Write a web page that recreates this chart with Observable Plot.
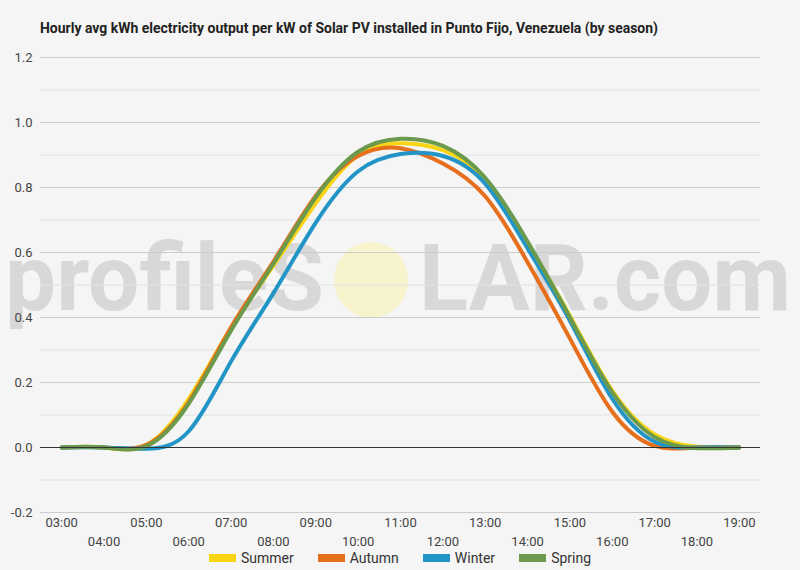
<!DOCTYPE html>
<html>
<head>
<meta charset="utf-8">
<script src="https://cdn.jsdelivr.net/npm/d3@7"></script>
<script src="https://cdn.jsdelivr.net/npm/@observablehq/plot@0.6"></script>
<style>
  html, body { margin: 0; padding: 0; background: #f5f5f5; }
  #wrap { position: relative; width: 800px; height: 570px; background: #f5f5f5; overflow: hidden; font-family: Roboto, "DejaVu Sans", sans-serif; }
  #wm, #title { position: absolute; left: 0; top: 0; }
  #chart { position: absolute; left: 0; top: 0; }
  #legend { position: absolute; left: 0; top: 550px; width: 800px; display: flex; justify-content: center; font-size: 14px; color: #333; }
  .item { display: flex; align-items: center; margin: 0 12px; }
  .sw { width: 27px; height: 8px; margin-right: 5px; }
</style>
</head>
<body>
<div id="wrap">
  <svg id="wm" width="800" height="570">
    <g transform="translate(0,310) scale(1,1.05)">
      <text x="5" y="0" font-family="Roboto" font-weight="bold" font-size="89" fill="#d8d8d8" textLength="319" lengthAdjust="spacingAndGlyphs">profileS</text>
      <text x="419" y="0" font-family="Roboto" font-weight="bold" font-size="89" fill="#d8d8d8" textLength="372" lengthAdjust="spacingAndGlyphs">LAR.com</text>
    </g>
    <ellipse cx="371" cy="280" rx="37" ry="38" fill="#f7f3cc"></ellipse>
  </svg>
  <div id="chart"></div>
  <svg id="title" width="800" height="50">
    <text x="40" y="33" font-family="Roboto" font-weight="bold" font-size="14.5" fill="#222" textLength="618" lengthAdjust="spacingAndGlyphs">Hourly avg kWh electricity output per kW of Solar PV installed in Punto Fijo, Venezuela (by season)</text>
  </svg>
  <div id="legend"></div>
</div>
<script>
const hours = [3, 4, 5, 6, 7, 8, 9, 10, 11, 12, 13, 14, 15, 16, 17, 18, 19];
const hourLabels = ["03:00","04:00","05:00","06:00","07:00","08:00","09:00","10:00","11:00","12:00","13:00","14:00","15:00","16:00","17:00","18:00","19:00"];
const seasons = ["Summer", "Autumn", "Winter", "Spring"];
const colors = ["#f7d414", "#e66f1d", "#2295c6", "#6c9a4c"];
const summer = [0, 0, 0.008, 0.150, 0.368, 0.560, 0.752, 0.900, 0.936, 0.915, 0.825, 0.630, 0.405, 0.175, 0.040, 0.002, 0];
const autumn = [0, 0, 0.008, 0.140, 0.370, 0.572, 0.775, 0.897, 0.921, 0.874, 0.773, 0.570, 0.335, 0.110, 0.005, 0, 0];
const winter = [0, 0, -0.004, 0.050, 0.265, 0.475, 0.692, 0.850, 0.903, 0.897, 0.812, 0.613, 0.390, 0.150, 0.018, 0, 0];
const spring = [0, 0, 0.004, 0.135, 0.360, 0.566, 0.770, 0.910, 0.950, 0.928, 0.830, 0.634, 0.400, 0.170, 0.032, -0.002, 0];
const yTicks = [-0.2, 0, 0.2, 0.4, 0.6, 0.8, 1.0, 1.2];
const yMinor = [-0.1, 0.1, 0.3, 0.5, 0.7, 0.9, 1.1];

const seriesValues = [summer, autumn, winter, spring];
const data = seasons.flatMap((s, j) => hours.map((h, i) => ({hour: h, value: seriesValues[j][i], season: s})));
const fmtHour = h => hourLabels[hours.indexOf(h)];
const oddHours = hours.filter((h, i) => i % 2 === 0);
const evenHours = hours.filter((h, i) => i % 2 === 1);

const chart = Plot.plot({
  width: 800,
  height: 550,
  marginTop: 57,
  marginBottom: 38,
  marginLeft: 40,
  marginRight: 40,
  style: {background: "transparent", fontFamily: "Roboto", fontSize: "13px", color: "#444"},
  x: {domain: [2.5, 19.5]},
  y: {domain: [-0.2, 1.2]},
  color: {domain: seasons, range: colors},
  marks: [
    Plot.ruleY(yMinor, {stroke: "#e2e2e2", strokeWidth: 1}),
    Plot.ruleY(yTicks.filter(v => v !== 0), {stroke: "#cccccc", strokeWidth: 1}),
    Plot.axisY({ticks: yTicks, tickSize: 0, tickPadding: 8, tickFormat: d => d.toFixed(1), label: null, fill: "#444", fontSize: 13}),
    Plot.axisX({ticks: oddHours, tickSize: 0, tickPadding: 5, tickFormat: fmtHour, label: null, fill: "#444", fontSize: 13}),
    Plot.axisX({ticks: evenHours, tickSize: 0, tickPadding: 24, tickFormat: fmtHour, label: null, fill: "#444", fontSize: 13}),
    Plot.line(data, {x: "hour", y: "value", stroke: "season", z: "season", strokeWidth: 4, curve: "natural"}),
    Plot.ruleY([0], {stroke: "#333", strokeWidth: 1})
  ]
});
document.getElementById("chart").appendChild(chart);

const legend = document.getElementById("legend");
seasons.forEach((s, i) => {
  const item = document.createElement("div");
  item.className = "item";
  const sw = document.createElement("div");
  sw.className = "sw";
  sw.style.background = colors[i];
  const t = document.createElement("span");
  t.textContent = s;
  item.appendChild(sw);
  item.appendChild(t);
  legend.appendChild(item);
});
</script>
</body>
</html>
